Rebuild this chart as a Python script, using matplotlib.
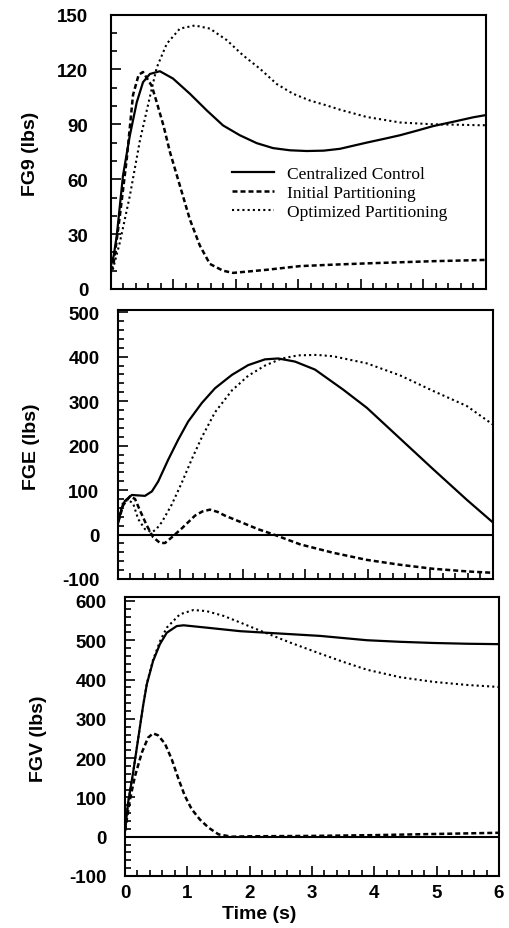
import matplotlib
matplotlib.use("Agg")
import matplotlib.pyplot as plt
from matplotlib.ticker import MultipleLocator

plt.rcParams["axes.unicode_minus"] = False

# ---------------- data ----------------
# Panel 1: FG9
fg9_cc_t = [0, 0.05, 0.1, 0.2, 0.31, 0.42, 0.52, 0.63, 0.79, 1.0, 1.27, 1.54, 1.8, 2.07,
            2.34, 2.6, 2.87, 3.14, 3.41, 3.67, 4.1, 4.37, 4.63, 4.9, 5.16, 5.5, 5.8, 6.0]
fg9_cc_v = [12, 18, 29, 62, 84, 102, 113, 117.5, 119, 115, 106.7, 97.6, 89.4, 84,
            79.7, 77, 75.8, 75.4, 75.6, 76.6, 80, 82, 84, 86.5, 89, 91.5, 93.8, 95]

fg9_ip_t = [0, 0.045, 0.15, 0.26, 0.36, 0.45, 0.52, 0.66, 0.74, 0.85, 0.95, 1.11, 1.27,
            1.43, 1.59, 1.8, 1.96, 2.5, 3.03, 3.56, 4.1, 4.63, 5.16, 5.9, 6.0]
fg9_ip_v = [10, 12.8, 40, 71, 106, 117, 118.6, 111, 102, 89, 75, 56.5, 38,
            23.7, 13.7, 10, 8.8, 10.5, 12.5, 13.3, 14, 14.6, 15.2, 15.8, 15.9]

fg9_op_t = [0, 0.04, 0.15, 0.31, 0.47, 0.63, 0.74, 0.9, 1.11, 1.35, 1.59, 1.86, 2.12,
            2.39, 2.66, 2.92, 3.19, 3.46, 3.67, 4.1, 4.63, 5.16, 5.5, 5.9, 6.0]
fg9_op_v = [8, 11, 25.5, 51, 81, 105, 121, 134, 142.3, 144, 142.3, 136, 127.7,
            120.4, 112, 106.7, 103, 100.3, 98, 94, 91, 90, 89.8, 89.5, 89.5]

# Panel 2: FGE
fge_cc_t = [0, 0.01, 0.07, 0.12, 0.23, 0.33, 0.44, 0.55, 0.65, 0.81, 0.97, 1.13, 1.35,
            1.56, 1.83, 2.09, 2.36, 2.57, 2.84, 3.16, 3.61, 3.99, 4.52, 5.05, 5.59, 6.0]
fge_cc_v = [10, 27, 61, 76, 89, 88, 87, 97, 119, 168, 213, 254, 296,
            329, 359, 381, 394, 396, 389, 371, 326, 285, 216, 147, 78, 28]

fge_ip_t = [0, 0.01, 0.09, 0.2, 0.28, 0.36, 0.47, 0.57, 0.68, 0.76, 0.87, 1.03, 1.24,
            1.36, 1.48, 1.6, 1.72, 1.99, 2.25, 2.52, 2.92, 3.45, 3.99, 4.52, 5.05, 5.6, 6.0]
fge_ip_v = [10, 27, 66, 86, 80, 54, 20, -6, -19, -19, -6, 14, 42.5,
            52, 56, 51, 42.5, 27, 12, -1, -22, -41, -57, -68, -77, -83, -86]

fge_op_t = [0, 0.01, 0.09, 0.17, 0.25, 0.33, 0.44, 0.55, 0.62, 0.71, 0.87, 1.03, 1.19,
            1.35, 1.56, 1.83, 2.09, 2.36, 2.63, 2.89, 3.19, 3.45, 3.99, 4.52, 5.05, 5.59, 6.0]
fge_op_v = [10, 35, 73, 78, 70, 35, 12, 5, 12, 28, 68, 117, 170,
            219, 275, 324, 357, 380, 396, 403, 404, 401, 385, 358, 323, 289, 248]

# Panel 3: FGV
fgv_cc_t = [0, 0.05, 0.13, 0.21, 0.29, 0.35, 0.45, 0.56, 0.67, 0.83, 0.94, 1.31, 1.85,
            2.38, 3.13, 3.88, 4.41, 4.95, 5.5, 6.0]
fgv_cc_v = [15, 87, 163, 248, 333, 388, 447, 490, 519, 536, 538, 532, 523,
            518, 511, 500, 496, 493, 491, 490]

fgv_ip_t = [0, 0.08, 0.16, 0.27, 0.37, 0.45, 0.53, 0.64, 0.75, 0.86, 0.96, 1.07, 1.2,
            1.34, 1.5, 1.71, 2.0, 3.0, 4.0, 5.0, 6.0]
fgv_ip_v = [15, 95, 154, 214, 252, 263, 258, 237, 197, 146, 104, 70, 44,
            23, 6, 0, 1, 2, 4, 7, 10]

fgv_op_t = [0, 0.05, 0.13, 0.21, 0.29, 0.35, 0.45, 0.56, 0.67, 0.88, 1.1, 1.31, 1.58,
            1.85, 2.11, 2.38, 2.65, 3.13, 3.5, 3.88, 4.41, 4.95, 5.5, 6.0]
fgv_op_v = [15, 87, 163, 248, 333, 390, 450, 497, 532, 566, 577, 574, 562,
            545, 528, 511, 494, 466, 445, 425, 406, 394, 386, 381]

series_labels = ["Centralized Control", "Initial Partitioning", "Optimized Partitioning"]
y_labels = ["FG9 (lbs)", "FGE (lbs)", "FGV (lbs)"]
x_ticks = [0, 1, 2, 3, 4, 5, 6]
y_ticks = [[0, 30, 60, 90, 120, 150],
           [-100, 0, 100, 200, 300, 400, 500],
           [-100, 0, 100, 200, 300, 400, 500, 600]]
x_label = "Time (s)"

# ---------------- figure ----------------
W, H = 509, 929
fig = plt.figure(figsize=(W / 100, H / 100), dpi=100)

def rect(l, r, t, b):
    return [l / W, 1 - b / H, (r - l) / W, (b - t) / H]

axes = [
    fig.add_axes(rect(110.5, 485.5, 15.5, 290)),
    fig.add_axes(rect(117.5, 492.5, 311, 580)),
    fig.add_axes(rect(125, 499, 598, 877)),
]

ylims = [(0, 150), (-100, 505), (-100, 610)]
yminor = [10, 20, 20]
ypads = [16, 13, 13]
ylab_x = [-0.214, -0.228, -0.23]

solid = dict(color="black", lw=1.6, linestyle="-")
dashed = dict(color="black", lw=1.8, linestyle=(0, (2, 1.2)))
dotted = dict(color="black", lw=1.5, linestyle=(0, (1, 1.5)))

data = [
    [(fg9_cc_t, fg9_cc_v), (fg9_ip_t, fg9_ip_v), (fg9_op_t, fg9_op_v)],
    [(fge_cc_t, fge_cc_v), (fge_ip_t, fge_ip_v), (fge_op_t, fge_op_v)],
    [(fgv_cc_t, fgv_cc_v), (fgv_ip_t, fgv_ip_v), (fgv_op_t, fgv_op_v)],
]

tick_font = dict(family="Liberation Sans", weight="bold", size=13.5)

for i, ax in enumerate(axes):
    styles = [solid, dashed, dotted]
    for (t, v), st, lab in zip(data[i], styles, series_labels):
        ax.plot(t, v, label=lab, **st)
    if i > 0:
        ax.axhline(0, color="black", lw=1.5)
    ax.set_xlim(0, 6)
    ax.set_ylim(*ylims[i])
    ax.set_xticks(x_ticks)
    ax.set_yticks(y_ticks[i])
    ax.xaxis.set_minor_locator(MultipleLocator(0.2))
    ax.yaxis.set_minor_locator(MultipleLocator(yminor[i]))
    ax.tick_params(which="both", direction="in", top=False, right=False, width=1.2)
    ax.tick_params(which="major", length=7)
    ax.tick_params(which="minor", length=4)
    ax.tick_params(axis="y", pad=ypads[i])
    ax.tick_params(axis="x", pad=6)
    for sp in ax.spines.values():
        sp.set_linewidth(1.5)
    for lbl in ax.get_yticklabels():
        lbl.set_fontproperties(tick_font)
    if i < 2:
        ax.set_xticklabels([])
    else:
        for lbl in ax.get_xticklabels():
            lbl.set_fontproperties(tick_font)
    ax.set_ylabel(y_labels[i], family="Liberation Sans", weight="bold", size=14, va="center")
    ax.yaxis.set_label_coords(ylab_x[i], 0.495)

ax3 = axes[2]
ax3.set_xlabel(x_label, family="Liberation Sans", weight="bold", size=14, va="center")
ax3.xaxis.set_label_coords(0.358, -0.136)

leg = axes[0].legend(loc="upper left", bbox_to_anchor=(0.324, 0.448), frameon=False,
                     borderpad=0, borderaxespad=0, handlelength=2.4, handletextpad=0.75,
                     labelspacing=0.15,
                     prop=dict(family="Liberation Serif", size=12.5))

fig.savefig("out.png", dpi=100)
